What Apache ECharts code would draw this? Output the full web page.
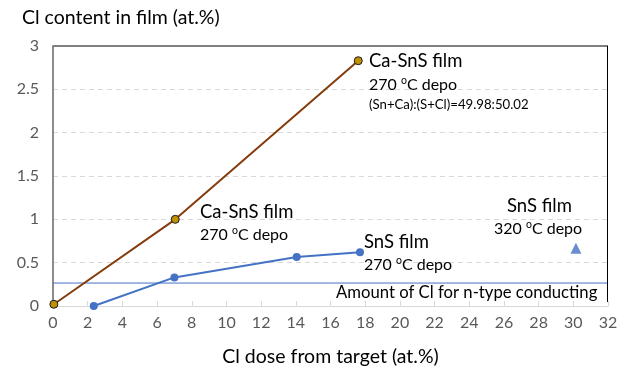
<!DOCTYPE html>
<html><head><meta charset="utf-8">
<script src="https://cdn.jsdelivr.net/npm/echarts@6/dist/echarts.min.js"></script>
<style>html,body{margin:0;padding:0;background:#fff}#c{width:618px;height:367px}</style>
</head><body><div id="c"></div>
<script>
const caSnsX = [0.05, 7.05, 17.6];
const caSnsY = [0.02, 1.0, 2.83];
const snsX = [2.35, 7.0, 14.05, 17.7];
const snsY = [0.0, 0.33, 0.565, 0.62];
const sns320X = [30.15];
const sns320Y = [0.665];
const nTypeLevel = 0.265;
const xTicks = {min: 0, max: 32, step: 2};
const yTicks = {min: 0, max: 3, step: 0.5};

const FONT = 'Lato';
const chart = echarts.init(document.getElementById('c'));
const pair = (xs, ys) => xs.map((x, i) => [x, ys[i]]);
const sup = {a:{fontSize:16,fontFamily:FONT,fill:'#000'}, s:{fontSize:10.5,fontFamily:FONT,fill:'#000',verticalAlign:'top',padding:[0,0,9,0]}};
function txt(x, y, text, size) {
  return {type:'text', x:x, y:y, z:10, style:{text:text, fontSize:size, fontFamily:FONT, fill:'#000', verticalAlign:'middle'}};
}
function depo(x, y, t) {
  return {type:'text', x:x, y:y, z:10, style:{text:'{a|' + t + ' }{s|o}{a|C depo}', rich:sup, fontFamily:FONT, verticalAlign:'middle'}};
}
chart.setOption({
  animation:false,
  grid:{left:53, right:10, top:46, bottom:61, outerBoundsMode:'none', containLabel:false},
  xAxis:{type:'value', min:xTicks.min, max:xTicks.max, interval:xTicks.step,
    axisLine:{onZero:false, lineStyle:{color:'#d9d9d9', width:1}},
    axisTick:{show:true, inside:true, length:5, lineStyle:{color:'#d9d9d9'}},
    axisLabel:{color:'#595959', fontSize:16, fontFamily:FONT, margin:9},
    splitLine:{show:false},
    name:'Cl dose from target (at.%)', nameLocation:'middle', nameGap:41,
    nameTextStyle:{color:'#000', fontSize:19.5, fontFamily:FONT}},
  yAxis:{type:'value', min:yTicks.min, max:yTicks.max, interval:yTicks.step,
    axisLine:{show:true, onZero:false, lineStyle:{color:'#8c8c8c', width:2}},
    axisTick:{show:false},
    axisLabel:{color:'#595959', fontSize:16, fontFamily:FONT, margin:14},
    splitLine:{show:true, lineStyle:{color:'#d9d9d9', type:[5,4], width:1}}},
  series:[
    {type:'line', data:[[xTicks.min, nTypeLevel], [xTicks.max, nTypeLevel]], symbol:'none',
     lineStyle:{color:'#4472C4', width:1}, z:3, silent:true},
    {type:'line', data:pair(caSnsX, caSnsY), symbol:'circle', symbolSize:8,
     lineStyle:{color:'#843C0C', width:2},
     itemStyle:{color:'#BF9000', borderColor:'#1a1a1a', borderWidth:1}, z:5},
    {type:'line', data:pair(snsX, snsY), symbol:'circle', symbolSize:8,
     lineStyle:{color:'#4472C4', width:2},
     itemStyle:{color:'#4472C4'}, z:4},
    {type:'scatter', data:pair(sns320X, sns320Y), symbol:'triangle', symbolSize:11,
     itemStyle:{color:'#4472C4'}}
  ],
  graphic:[
    {type:'line', z:20, shape:{x1:53, y1:46, x2:608, y2:46}, style:{stroke:'#7f7f7f', lineWidth:2}},
    {type:'line', z:20, shape:{x1:607.5, y1:46, x2:607.5, y2:302}, style:{stroke:'#000', lineWidth:1}},
    txt(22, 18, 'Cl content in film (at.%)', 19.5),
    txt(369, 61, 'Ca-SnS film', 18.5),
    depo(369, 85, '270'),
    txt(369, 105, '(Sn+Ca):(S+Cl)=49.98:50.02', 13.2),
    txt(200, 212, 'Ca-SnS film', 18.5),
    depo(200, 235, '270'),
    txt(364, 242, 'SnS film', 18.5),
    depo(364, 265, '270'),
    txt(507, 206, 'SnS film', 18.5),
    depo(494, 229, '320'),
    txt(336, 293, 'Amount of Cl for n-type conducting', 16.7)
  ]
});
</script></body></html>
